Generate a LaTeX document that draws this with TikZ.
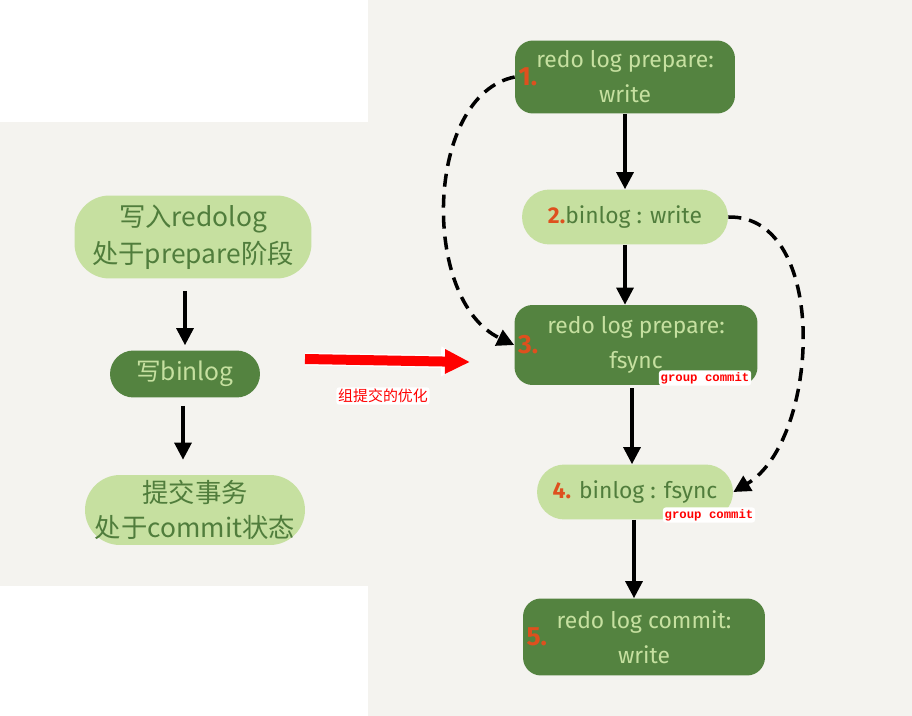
\documentclass[tikz,border=0pt]{standalone}
\usepackage{fontspec}
\setmainfont{Fira Sans}
\newfontfamily\cjk{Noto Sans CJK SC}
\newfontfamily\tagfont{Liberation Mono}
\usetikzlibrary{arrows.meta}
\definecolor{darkleaf}{RGB}{84,131,64}
\definecolor{paleleaf}{RGB}{198,224,160}
\definecolor{inkgreen}{RGB}{80,125,60}
\definecolor{paper}{RGB}{244,243,239}
\definecolor{stepnum}{RGB}{222,80,30}
\tikzstyle{darkstep} = [fill=darkleaf, text=paleleaf, rounded corners=0.36cm, align=center, inner sep=0pt, font=\fontsize{13}{20}\selectfont]
\tikzstyle{palestep} = [fill=paleleaf, text=inkgreen, rounded corners=0.55cm, align=center, inner sep=0pt, font=\fontsize{13}{20}\selectfont]
\tikzstyle{oldstep} = [fill=paleleaf, text=inkgreen, rounded corners=0.7cm, align=center, inner sep=0pt, font=\cjk\fontsize{15}{21}\selectfont]
\tikzstyle{num} = [text=stepnum, inner sep=2pt, font=\bfseries\fontsize{15}{15}\selectfont]
\tikzstyle{flow} = [line width=1.8pt, -{Triangle[width=0.34cm,length=0.34cm]}]
\tikzstyle{skip} = [flow, line width=2pt, dash pattern=on 0.26cm off 0.16cm]
\tikzstyle{tag} = [fill=white, text=red, rounded corners=1.5pt, inner sep=1pt, font=\tagfont\bfseries\fontsize{7}{7}\selectfont]

\begin{document}
\begin{tikzpicture}[x=0.02cm,y=-0.02cm]
	\useasboundingbox (0,0) rectangle (912,716);
	\fill[paper] (0,0) rectangle (912,716);
	\fill[white] (0,0) rectangle (368,122);
	\fill[white] (0,586) rectangle (368,716);
	
	% the usual two-phase commit
	\node[oldstep, minimum width=4.74cm, minimum height=1.66cm] (a) at (193,237) {写入redolog\\处于prepare阶段};
	\node[oldstep, fill=darkleaf, text=paleleaf, rounded corners=0.47cm, minimum width=3cm, minimum height=0.94cm, font=\cjk\fontsize{14}{16}\selectfont] (b) at (185,374) {写binlog};
	\node[oldstep, minimum width=4.4cm, minimum height=1.4cm, font=\cjk\fontsize{15}{20}\selectfont] (c) at (195,510) {提交事务\\处于commit状态};
	\draw[flow, shorten <=0.24cm, shorten >=0.1cm] (185,0 |- a.south) -- (b.north);
	\draw[flow, shorten <=0.16cm, shorten >=0.3cm] (183,0 |- b.south) -- (183,0 |- c.north);
	
	% fat red arrow
	\coordinate (optfrom) at (305,359);
	\coordinate (optto) at (470,362);
	\draw[red, line width=0.2cm, -{Triangle[width=0.46cm,length=0.5cm]}, preaction={draw=white, line width=0.26cm, -{Triangle[width=0.56cm,length=0.58cm]}}] (optfrom) -- (optto);
	\node[tag, font=\cjk\fontsize{8.5}{9}\selectfont] (opt) at (383,396) {组提交的优化};
	
	% with group commit
	\node[darkstep, minimum width=4.4cm, minimum height=1.46cm, label={[num,anchor=west]west:1.}] (n1) at (625,77) {redo log prepare:\\write};
	\node[palestep, minimum width=4.12cm, minimum height=1.1cm] (n2) at (625,217) {\textcolor{stepnum}{\bfseries 2.}binlog : write};
	\node[darkstep, minimum width=4.86cm, minimum height=1.6cm, label={[num,anchor=west]west:3.}] (n3) at (636,345) {redo log prepare:\\fsync};
	\node[palestep, minimum width=3.92cm, minimum height=1.1cm] (n4) at (635,492) {\textcolor{stepnum}{\bfseries 4.} binlog : fsync};
	\node[darkstep, minimum width=4.84cm, minimum height=1.54cm, label={[num,anchor=west]west:5.}] (n5) at (644,637) {redo log commit:\\write};
	\node[tag] (g3) at (705,378) {group commit};
	\node[tag] (g4) at (709,515) {group commit};
	
	\draw[flow] (n1) -- (n2);
	\draw[flow] (n2.south) -- (n2.south |- n3.north);
	\draw[flow, shorten <=0.06cm] (632,0 |- n3.south) -- (632,0 |- n4.north);
	\draw[flow] (634,0 |- n4.south) -- (634,0 |- n5.north);
	\draw[skip] (n1.west) .. controls (425,95) and (420,300) .. (n3.west);
	\draw[skip] (n2.east) .. controls (830,215) and (820,440) .. (n4.east);
\end{tikzpicture}
\end{document}
